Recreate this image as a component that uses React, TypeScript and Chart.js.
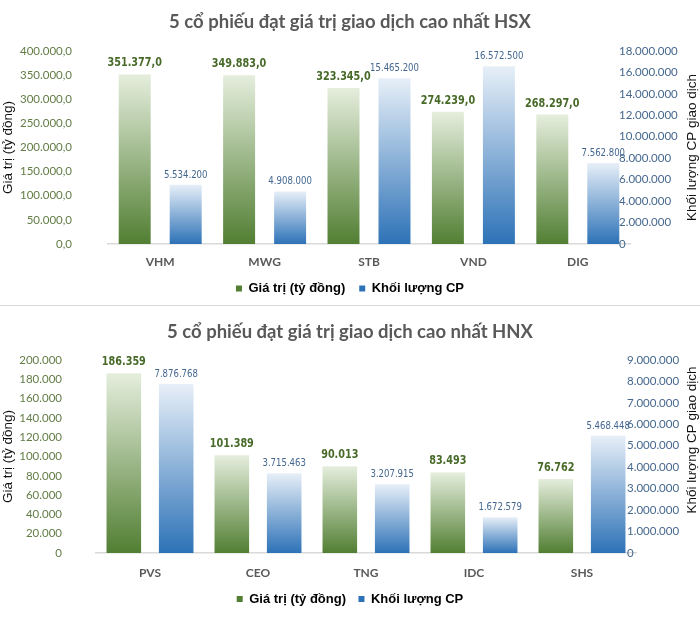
import React, { useEffect, useRef } from 'react';
import { Chart, registerables } from 'chart.js';

Chart.register(...registerables);

// HSX
const hsxTitle = '5 cổ phiếu đạt giá trị giao dịch cao nhất HSX';
const hsxCodes = ['VHM', 'MWG', 'STB', 'VND', 'DIG'];
const hsxValues = [351377.0, 349883.0, 323345.0, 274239.0, 268297.0];
const hsxVolumes = [5534200, 4908000, 15465200, 16572500, 7562800];
const hsxValueAxis = [0, 400000, 50000]; // min, max, step
const hsxVolumeAxis = [0, 18000000, 2000000];

// HNX
const hnxTitle = '5 cổ phiếu đạt giá trị giao dịch cao nhất HNX';
const hnxCodes = ['PVS', 'CEO', 'TNG', 'IDC', 'SHS'];
const hnxValues = [186359, 101389, 90013, 83493, 76762];
const hnxVolumes = [7876768, 3715463, 3207915, 1672579, 5468448];
const hnxValueAxis = [0, 200000, 20000];
const hnxVolumeAxis = [0, 9000000, 1000000];

const seriesNames = ['Giá trị (tỷ đồng)', 'Khối lượng CP'];
const leftAxisTitle = 'Giá trị (tỷ đồng)';
const rightAxisTitle = 'Khối lượng CP giao dịch';

// 1.234.567,8
const vn = (v: number, decimals = 0) => {
  const [int, frac] = v.toFixed(decimals).split('.');
  const grouped = int.replace(/\B(?=(\d{3})+(?!\d))/g, '.');
  return frac ? `${grouped},${frac}` : grouped;
};

const barFill = (top: string, bottom: string, flat: string, axis: string) => (ctx: any) => {
  if (ctx.type !== 'data') return flat;
  const chart = ctx.chart;
  const scale = chart.scales[axis];
  if (!scale) return flat;
  const y0 = scale.getPixelForValue(ctx.raw);
  const y1 = scale.getPixelForValue(0);
  if (!isFinite(y0) || !isFinite(y1) || y0 === y1) return flat;
  const g = chart.ctx.createLinearGradient(0, y0, 0, y1);
  g.addColorStop(0, top);
  g.addColorStop(1, bottom);
  return g;
};

type Frame = {
  height: number;
  titleTop: number;
  titleBottom: number;
  leftWidth: number;
  leftPad: number;
  rightWidth: number;
  rightPad: number;
  xPad: number;
  xHeight: number;
  legendPad: number;
  bottomPad: number;
  rightTitleY: number | null;
  catPct: number;
  barPct: number;
};

type PanelProps = {
  title: string;
  codes: string[];
  values: number[];
  volumes: number[];
  valueAxis: number[];
  volumeAxis: number[];
  valueDecimals: number;
  frame: Frame;
};

const tickFont = { family: 'Lato', size: 11.5 };

const Panel: React.FC<PanelProps> = ({ title, codes, values, volumes, valueAxis, volumeAxis, valueDecimals, frame }) => {
  const canvasRef = useRef<HTMLCanvasElement>(null);
  const chartRef = useRef<Chart | null>(null);

  useEffect(() => {
    if (!canvasRef.current) return;
    const ctx = canvasRef.current.getContext('2d');
    if (!ctx) return;
    if (chartRef.current) chartRef.current.destroy();

    const labelsPlugin = {
      id: 'valueLabels',
      afterDatasetsDraw(chart: any) {
        const c = chart.ctx;
        const styles = [
          { font: "bold 12.5px 'Liberation Sans Narrow', 'DejaVu Sans Condensed', sans-serif", color: '#476a29', gap: 8, squeeze: 0.86, fmt: (v: number) => vn(v, valueDecimals) },
          { font: "10px 'Liberation Sans Narrow', 'DejaVu Sans Condensed', sans-serif", color: '#44678f', gap: 7, squeeze: 0.95, fmt: (v: number) => vn(v) },
        ];
        chart.data.datasets.forEach((ds: any, di: number) => {
          const meta = chart.getDatasetMeta(di);
          const st = styles[di];
          meta.data.forEach((bar: any, i: number) => {
            c.save();
            c.font = st.font;
            c.fillStyle = st.color;
            c.textAlign = 'center';
            c.textBaseline = 'alphabetic';
            c.translate(bar.x, bar.y - st.gap);
            c.scale(st.squeeze, 1);
            c.fillText(st.fmt(ds.data[i]), 0, 0);
            c.restore();
          });
        });
      },
    };

    const rightTitlePlugin = {
      id: 'rightTitle',
      afterDraw(chart: any) {
        const c = chart.ctx;
        const area = chart.chartArea;
        const y = frame.rightTitleY ?? (area.top + area.bottom) / 2;
        c.save();
        c.font = "13.5px 'Liberation Sans', Arial, sans-serif";
        c.fillStyle = '#111';
        c.textAlign = 'center';
        c.textBaseline = 'middle';
        c.translate(chart.width - 8, y);
        c.rotate(-Math.PI / 2);
        c.fillText(rightAxisTitle, 0, 0);
        c.restore();
      },
    };

    chartRef.current = new Chart(ctx, {
      type: 'bar',
      data: {
        labels: codes,
        datasets: [
          {
            label: seriesNames[0],
            data: values,
            yAxisID: 'yValue',
            backgroundColor: barFill('#e5eedd', '#527f33', '#a9c096', 'yValue'),
            borderWidth: 0,
            categoryPercentage: frame.catPct,
            barPercentage: frame.barPct,
          },
          {
            label: seriesNames[1],
            data: volumes,
            yAxisID: 'yVolume',
            backgroundColor: barFill('#e7eff8', '#2d72b7', '#8fb4de', 'yVolume'),
            borderWidth: 0,
            categoryPercentage: frame.catPct,
            barPercentage: frame.barPct,
          },
        ],
      },
      options: {
        responsive: false,
        animation: false,
        layout: { padding: { left: 0, right: 0, top: 0, bottom: frame.bottomPad } },
        plugins: {
          title: {
            display: true,
            text: title,
            color: '#595959',
            font: { family: 'Lato', size: 18.5, weight: 'bold' },
            padding: { top: frame.titleTop, bottom: frame.titleBottom },
          },
          legend: {
            position: 'bottom',
            labels: {
              color: '#000',
              font: { family: "'Liberation Sans', Arial", size: 13, weight: 'bold' },
              boxWidth: 6,
              boxHeight: 6,
              padding: frame.legendPad,
            },
          },
          tooltip: { enabled: false },
        },
        scales: {
          x: {
            grid: { display: false, drawTicks: false },
            border: { display: true, color: '#d9d9d9', width: 1.5 },
            ticks: { color: '#595959', font: { family: 'Lato', size: 12, weight: 'bold' }, padding: frame.xPad },
            afterFit: (s: any) => { s.height = frame.xHeight; },
          },
          yValue: {
            position: 'left',
            min: valueAxis[0],
            max: valueAxis[1],
            grid: { display: false, drawTicks: false },
            border: { display: false },
            ticks: {
              stepSize: valueAxis[2],
              color: '#637d47',
              font: tickFont,
              padding: frame.leftPad,
              callback: (v: any) => vn(Number(v), valueDecimals),
            },
            title: {
              display: true,
              text: leftAxisTitle,
              color: '#111',
              font: { family: "'Liberation Sans', Arial", size: 13.5 },
              padding: 0,
            },
            afterFit: (s: any) => { s.width = frame.leftWidth; },
          },
          yVolume: {
            position: 'right',
            min: volumeAxis[0],
            max: volumeAxis[1],
            grid: { display: false, drawTicks: false },
            border: { display: false },
            ticks: {
              stepSize: volumeAxis[2],
              color: '#46688e',
              font: tickFont,
              padding: frame.rightPad,
              callback: (v: any) => vn(Number(v)),
            },
            afterFit: (s: any) => {
              s.width = frame.rightWidth;
              // labels start a little inside the plot, so don't clip them to the axis box
              s._computeLabelArea = () => undefined;
            },
          },
        },
      } as any,
      plugins: [labelsPlugin, rightTitlePlugin],
    });

    return () => {
      if (chartRef.current) {
        chartRef.current.destroy();
        chartRef.current = null;
      }
    };
  }, []);

  return <canvas ref={canvasRef} width={700} height={frame.height} style={{ display: 'block' }} />;
};

const hsxFrame: Frame = {
  height: 305,
  titleTop: 11.4,
  titleBottom: 17.4,
  leftWidth: 108,
  leftPad: 36,
  rightWidth: 70,
  rightPad: -11,
  xPad: 11,
  xHeight: 24,
  legendPad: 14,
  bottomPad: 0,
  rightTitleY: null,
  catPct: 0.977,
  barPct: 0.627,
};

const hnxFrame: Frame = {
  height: 311,
  titleTop: 14.9,
  titleBottom: 16.9,
  leftWidth: 96,
  leftPad: 34,
  rightWidth: 64,
  rightPad: -9,
  xPad: 13,
  xHeight: 27,
  legendPad: 12.5,
  bottomPad: 1.5,
  rightTitleY: 134,
  catPct: 0.97,
  barPct: 0.66,
};

export default function App() {
  useEffect(() => {
    document.body.style.margin = '0';
    document.body.style.background = '#fff';
  }, []);

  return (
    <div style={{ width: 700, background: '#fff' }}>
      <Panel
        title={hsxTitle}
        codes={hsxCodes}
        values={hsxValues}
        volumes={hsxVolumes}
        valueAxis={hsxValueAxis}
        volumeAxis={hsxVolumeAxis}
        valueDecimals={1}
        frame={hsxFrame}
      />
      <div style={{ height: 1, background: '#d9d9d9' }} />
      <Panel
        title={hnxTitle}
        codes={hnxCodes}
        values={hnxValues}
        volumes={hnxVolumes}
        valueAxis={hnxValueAxis}
        volumeAxis={hnxVolumeAxis}
        valueDecimals={0}
        frame={hnxFrame}
      />
    </div>
  );
}
